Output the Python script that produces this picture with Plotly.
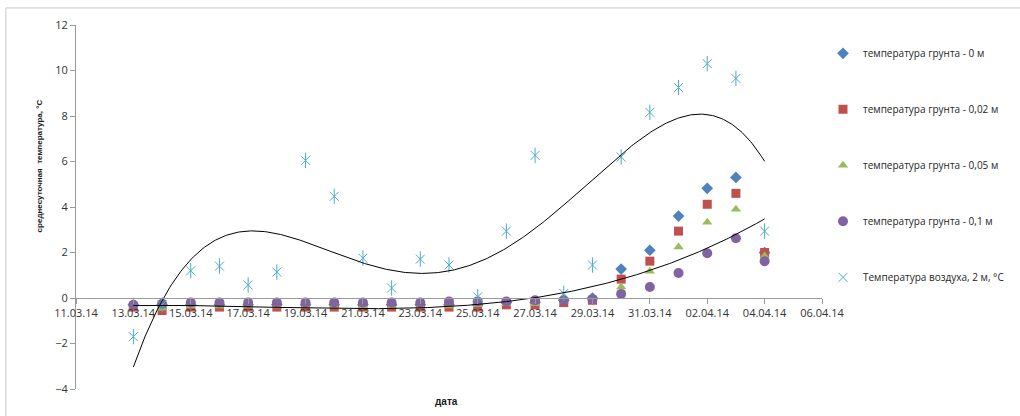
import numpy as np
import pandas as pd
import plotly.graph_objects as go

dates = pd.date_range("2014-03-13", "2014-04-04", freq="D")

soil_0 = [-0.3, -0.3, -0.3, -0.3, -0.3, -0.3, -0.3, -0.3, -0.3, -0.3, -0.3, -0.3,
          -0.3, -0.2, -0.2, -0.1, 0.0, 1.27, 2.1, 3.6, 4.82, 5.3, 2.0]
soil_002 = [-0.4, -0.55, -0.4, -0.4, -0.4, -0.4, -0.4, -0.4, -0.4, -0.4, -0.4, -0.4,
            -0.4, -0.3, -0.3, -0.2, -0.1, 0.83, 1.62, 2.94, 4.12, 4.6, 2.0]
soil_005 = [-0.35, -0.45, -0.35, -0.35, -0.35, -0.35, -0.35, -0.35, -0.35, -0.35, -0.35, -0.35,
            -0.3, -0.25, -0.25, -0.15, -0.05, 0.48, 1.18, 2.24, 3.33, 3.9, 1.85]
soil_01 = [-0.3, -0.25, -0.2, -0.2, -0.2, -0.2, -0.2, -0.2, -0.2, -0.2, -0.2, -0.15,
           -0.15, -0.15, -0.1, -0.1, -0.05, 0.18, 0.48, 1.1, 1.97, 2.63, 1.62]
air_2m = [-1.7, -0.3, 1.2, 1.4, 0.57, 1.14, 6.05, 4.47, 1.75, 0.44, 1.71, 1.45,
          0.05, 2.94, 6.27, 0.2, 1.45, 6.2, 8.16, 9.25, 10.3, 9.65, 2.94]

names = ["температура грунта - 0 м", "температура грунта - 0,02 м",
         "температура грунта - 0,05 м", "температура грунта - 0,1 м",
         "Температура воздуха, 2 м, °С"]

# polynomial trend lines (least squares over day index)
t = np.arange(len(dates), dtype=float)
fine_t = np.linspace(0, t[-1], 400)
fine_dates = dates[0] + pd.to_timedelta(fine_t, unit="D")


def poly_trend(values, degree):
    coef = np.polyfit(t, np.asarray(values, dtype=float), degree)
    return np.polyval(coef, fine_t)


fig = go.Figure()

styles = [
    (soil_0, "diamond", "#4F81BD", 9),
    (soil_002, "square", "#C0504D", 9),
    (soil_005, "triangle-up", "#9BBB59", 9),
    (soil_01, "circle", "#8064A2", 10),
]
for i, (vals, sym, col, size) in enumerate(styles):
    fig.add_trace(go.Scatter(x=dates, y=vals, mode="markers", name=names[i],
                             legendgroup=f"g{i}",
                             marker=dict(symbol=sym, color=col, size=size)))

# air temperature: star marker built from an X plus a vertical stroke
air_col = "#4BACC6"
fig.add_trace(go.Scatter(x=dates, y=air_2m, mode="markers", name=names[4],
                         legendgroup="g4",
                         marker=dict(symbol="x-thin-open", size=9, color=air_col,
                                     line=dict(color=air_col, width=1))))
fig.add_trace(go.Scatter(x=dates, y=air_2m, mode="markers", showlegend=False,
                         legendgroup="g4",
                         marker=dict(symbol="line-ns-open", size=11, color=air_col,
                                     line=dict(color=air_col, width=1))))

for vals, deg in [(air_2m, 4), (soil_005, 3)]:
    fig.add_trace(go.Scatter(x=fine_dates, y=poly_trend(vals, deg), mode="lines",
                             showlegend=False, hoverinfo="skip",
                             line=dict(color="black", width=1)))

axis_font = dict(family="Open Sans", size=11, color="#333333")
fig.update_layout(
    width=1020, height=416,
    margin=dict(l=76, r=197, t=25, b=27),
    paper_bgcolor="white", plot_bgcolor="white",
    showlegend=True,
    legend=dict(x=1.0, xanchor="left", y=0.962, yanchor="top",
                font=dict(family="Open Sans", size=10, color="#262626"),
                tracegroupgap=37, itemwidth=30),
    xaxis=dict(type="date", range=["2014-03-11", "2014-04-06"],
               tick0="2014-03-11", dtick=2 * 86400000, tickformat="%d.%m.%y",
               anchor="free", position=0.25,
               showline=True, linecolor="#9a9a9a", linewidth=1,
               ticks="outside", ticklen=5, tickcolor="#9a9a9a",
               showgrid=False, zeroline=False, tickfont=axis_font),
    yaxis=dict(range=[-4, 12], dtick=2, showline=True, linecolor="#9a9a9a",
               ticks="outside", ticklen=5, tickcolor="#9a9a9a",
               showgrid=False, zeroline=False, tickfont=axis_font),
    annotations=[
        dict(text="<b>среднесуточная  температура, °С</b>", textangle=-90,
             xref="paper", yref="paper", x=-0.0576, y=0.613,
             showarrow=False, font=dict(family="Liberation Sans", size=8, color="#1a1a1a")),
        dict(text="<b>дата</b>", xref="paper", yref="paper", x=0.497, y=-0.055,
             showarrow=False, font=dict(family="Liberation Sans", size=10, color="#1a1a1a")),
    ],
    shapes=[
        dict(type="line", xref="paper", yref="paper", x0=-0.094, x1=1.3,
             y0=1.047, y1=1.047, line=dict(color="#c8c8c8", width=1)),
        dict(type="line", xref="paper", yref="paper", x0=-0.094, x1=-0.094,
             y0=1.047, y1=-0.1, line=dict(color="#c8c8c8", width=1)),
    ],
)

fig.write_html("out.html")
